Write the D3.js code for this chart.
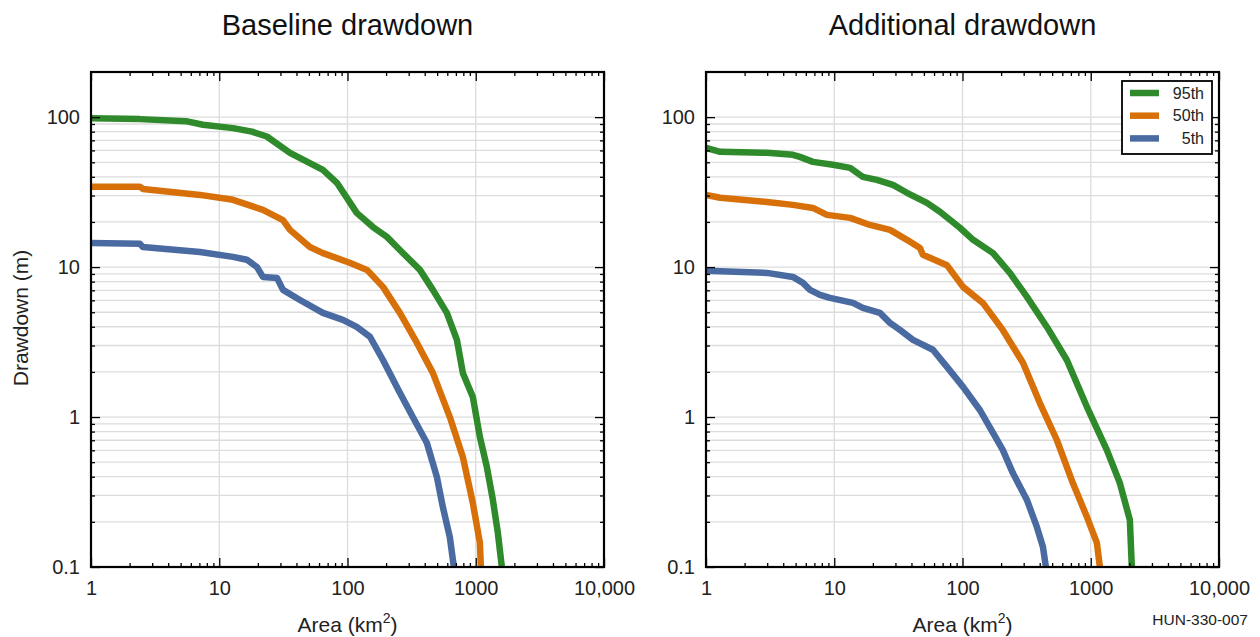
<!DOCTYPE html>
<html>
<head>
<meta charset="utf-8">
<script src="https://cdn.jsdelivr.net/npm/d3@7"></script>
<style>
  body { margin: 0; background: #fff; }
  svg { font-family: "Liberation Sans", Arial, sans-serif; }
  .grid line { stroke: #dcdcdc; stroke-width: 1.3px; }
  .axis path { display: none; }
  .axis line { stroke: #000; stroke-width: 1.3px; }
  .axis text { font-size: 20px; fill: #222; }
</style>
</head>
<body>
<svg id="chart"></svg>
<script>
// area (km2), drawdown (m) pairs
var baseline95 = [[1,98.5],[2.41,97],[5.5,94],[7.46,89],[12.8,84.5],[18,80],[23.5,74.3],[35.6,57.8],[64.3,44.5],[82.7,36.5],
  [118,23],[158,18.5],[203,15.9],[256,13],[367,9.58],[463,7.05],[595,4.95],[713,3.27],[793,1.97],[949,1.36],
  [1077,0.736],[1221,0.464],[1360,0.28],[1487,0.169],[1597,0.1]];
var baseline50 = [[1,34.4],[2.41,34.3],[2.54,33.2],[7.07,30.3],[12.8,28.1],[21.9,24.1],[31.4,20.6],[35.6,17.7],
  [50.9,13.6],[64.3,12.4],[104,10.7],[142,9.58],[189,7.38],[256,4.95],[348,3.12],[463,1.97],[628,1.0],
  [793,0.542],[949,0.267],[1077,0.145],[1096,0.1]];
var baseline5 = [[1,14.5],[2.41,14.3],[2.54,13.6],[7.07,12.6],[12.8,11.7],[16.4,11.2],[19.7,10.0],[21.9,8.6],
  [28.2,8.47],[31.4,7.05],[42.6,6.04],[64.3,4.95],[92.1,4.45],[118,3.99],[150,3.42],[189,2.4],[256,1.45],
  [323,1.0],[416,0.671],[498,0.398],[554,0.251],[628,0.158],[675,0.1]];
var additional95 = [[1,62.4],[1.29,58.7],[2.99,57.8],[4.76,56.1],[5.4,54.3],[6.82,50.3],[9.77,48.1],[13.3,45.9],
  [16.7,40],[21.5,38.2],[28.7,35.3],[36.9,31.3],[52.8,26.8],[66.7,23.4],[95.4,18.3],[121,15.2],[173,12.4],
  [234,9.15],[318,6.33],[455,3.99],[651,2.4],[933,1.17],[1334,0.604],[1686,0.363],[2018,0.206],[2090,0.1]];
var additional50 = [[1,30.3],[1.29,29],[2.99,27.2],[4.76,26],[6.82,24.8],[8.77,22.3],[13.3,21.3],[19,19.1],
  [27.2,17.7],[36.9,15.2],[46.6,13.4],[49.1,12.1],[75.6,10.3],[101,7.38],[144,5.77],[206,3.81],[296,2.3],
  [401,1.24],[544,0.703],[725,0.363],[933,0.216],[1116,0.145],[1178,0.1]];
var additional5 = [[1,9.44],[2.99,9.15],[4.76,8.6],[5.7,7.85],[6.47,7.05],[7.74,6.53],[9.26,6.23],[14,5.77],
  [16.7,5.35],[22.7,4.95],[27.2,4.25],[32.5,3.81],[41.1,3.27],[58.8,2.81],[75.6,2.16],[101,1.59],[137,1.11],
  [173,0.783],[206,0.604],[247,0.423],[318,0.28],[380,0.185],[424,0.136],[447,0.1]];

var seriesNames = ["95th","50th","5th"];
var seriesColors = ["#2e8a2a","#d8700a","#4a6ba2"];
var panelTitles = ["Baseline drawdown","Additional drawdown"];
var xMajor = [1,10,100,1000,10000];
var xMajorLabels = ["1","10","100","1000","10,000"];
var yMajor = [0.1,1,10,100];
var yMajorLabels = ["0.1","1","10","100"];

var screen = {width:1260, height:637}
var svg = d3.select("#chart").attr("width",screen.width).attr("height",screen.height)

var panels = [
  {left:91, series:[baseline95,baseline50,baseline5]},
  {left:706, series:[additional95,additional50,additional5]}
]
var graph = {width:513, height:495, top:72}

var minorTicks = function(lo,hi)
{
  var out = []
  for (var p = lo; p < hi; p *= 10)
    for (var k = 1; k < 10; k++)
      if (p*k > lo && p*k < hi) out.push(p*k)
  return out
}
var xMinor = minorTicks(1,10000).filter(function(v){ return xMajor.indexOf(v) < 0 })
var yMinor = minorTicks(0.1,200).filter(function(v){ return yMajor.indexOf(v) < 0 })
var yGrid = minorTicks(0.1,1000).filter(function(v){ return v > 0.1 && v < 200 })

panels.forEach(function(panel,pi)
{
  var xScale = d3.scaleLog().domain([1,10000]).range([0,graph.width])
  var yScale = d3.scaleLog().domain([0.1,200]).range([graph.height,0])

  var g = svg.append("g")
    .attr("transform","translate("+panel.left+","+graph.top+")")

  // grid
  var grid = g.append("g").classed("grid",true)
  grid.selectAll(".gy").data(yGrid).enter().append("line")
    .attr("x1",0).attr("x2",graph.width)
    .attr("y1",function(d){ return yScale(d) }).attr("y2",function(d){ return yScale(d) })
  grid.selectAll(".gx").data([10,100,1000]).enter().append("line")
    .attr("y1",0).attr("y2",graph.height)
    .attr("x1",function(d){ return xScale(d) }).attr("x2",function(d){ return xScale(d) })

  // curves
  var clipId = "clip"+pi
  g.append("clipPath").attr("id",clipId).append("rect")
    .attr("width",graph.width).attr("height",graph.height)
  var lineGen = d3.line()
    .x(function(d){ return xScale(d[0]) })
    .y(function(d){ return yScale(d[1]) })
  g.append("g").attr("clip-path","url(#"+clipId+")")
    .selectAll("path").data(panel.series).enter().append("path")
    .attr("d",lineGen)
    .attr("fill","none")
    .attr("stroke",function(d,i){ return seriesColors[i] })
    .attr("stroke-width",6.5)
    .attr("stroke-linejoin","round")

  // axes (ticks pointing inward, mirrored on all four sides)
  var bottom = g.append("g").classed("axis",true).attr("transform","translate(0,"+graph.height+")")
  bottom.call(d3.axisBottom(xScale).tickValues(xMajor).tickSize(-9).tickPadding(14)
    .tickFormat(function(d,i){ return xMajorLabels[i] }))
  g.append("g").classed("axis",true).attr("transform","translate(0,"+graph.height+")")
    .call(d3.axisBottom(xScale).tickValues(xMinor).tickSize(-4).tickFormat(""))
  g.append("g").classed("axis",true)
    .call(d3.axisTop(xScale).tickValues(xMajor).tickSize(-9).tickFormat(""))
  g.append("g").classed("axis",true)
    .call(d3.axisTop(xScale).tickValues(xMinor).tickSize(-4).tickFormat(""))

  g.append("g").classed("axis",true)
    .call(d3.axisLeft(yScale).tickValues(yMajor).tickSize(-9).tickPadding(11)
      .tickFormat(function(d,i){ return yMajorLabels[i] }))
  g.append("g").classed("axis",true)
    .call(d3.axisLeft(yScale).tickValues(yMinor).tickSize(-4).tickFormat(""))
  g.append("g").classed("axis",true).attr("transform","translate("+graph.width+",0)")
    .call(d3.axisRight(yScale).tickValues(yMajor).tickSize(-9).tickFormat(""))
  g.append("g").classed("axis",true).attr("transform","translate("+graph.width+",0)")
    .call(d3.axisRight(yScale).tickValues(yMinor).tickSize(-4).tickFormat(""))

  // frame
  g.append("rect")
    .attr("width",graph.width).attr("height",graph.height)
    .attr("fill","none").attr("stroke","#000").attr("stroke-width",2.2)

  // labels
  g.append("text")
    .text(panelTitles[pi])
    .attr("x",graph.width/2).attr("y",-37)
    .attr("text-anchor","middle")
    .style("font-size","29px").style("fill","#111")
  var xl = g.append("text")
    .attr("x",graph.width/2).attr("y",graph.height+65)
    .attr("text-anchor","middle")
    .style("font-size","21px").style("fill","#222")
  xl.append("tspan").text("Area (km")
  xl.append("tspan").text("2").attr("dy","-9").style("font-size","14px")
  xl.append("tspan").text(")").attr("dy","9")

  if (pi == 1)
  {
    var legend = g.append("g").attr("transform","translate("+(graph.width-97)+",9)")
    legend.append("rect")
      .attr("width",90).attr("height",73)
      .attr("fill","#fff").attr("stroke","#000").attr("stroke-width",1.8)
    var items = legend.selectAll(".item").data(seriesNames).enter().append("g")
      .attr("transform",function(d,i){ return "translate(0,"+(12+i*22.7)+")" })
    items.append("line")
      .attr("x1",8).attr("x2",37)
      .attr("stroke",function(d,i){ return seriesColors[i] })
      .attr("stroke-width",6.5)
    items.append("text")
      .text(function(d){ return d })
      .attr("x",82).attr("y",5.5)
      .attr("text-anchor","end")
      .style("font-size","16px").style("fill","#222")
  }
})

svg.append("text")
  .text("Drawdown (m)")
  .attr("transform","translate(28,318) rotate(-90)")
  .attr("text-anchor","middle")
  .style("font-size","21px").style("fill","#222")

svg.append("text")
  .text("HUN-330-007")
  .attr("x",1248).attr("y",625)
  .attr("text-anchor","end")
  .style("font-size","15.5px").style("fill","#222")
</script>
</body>
</html>
